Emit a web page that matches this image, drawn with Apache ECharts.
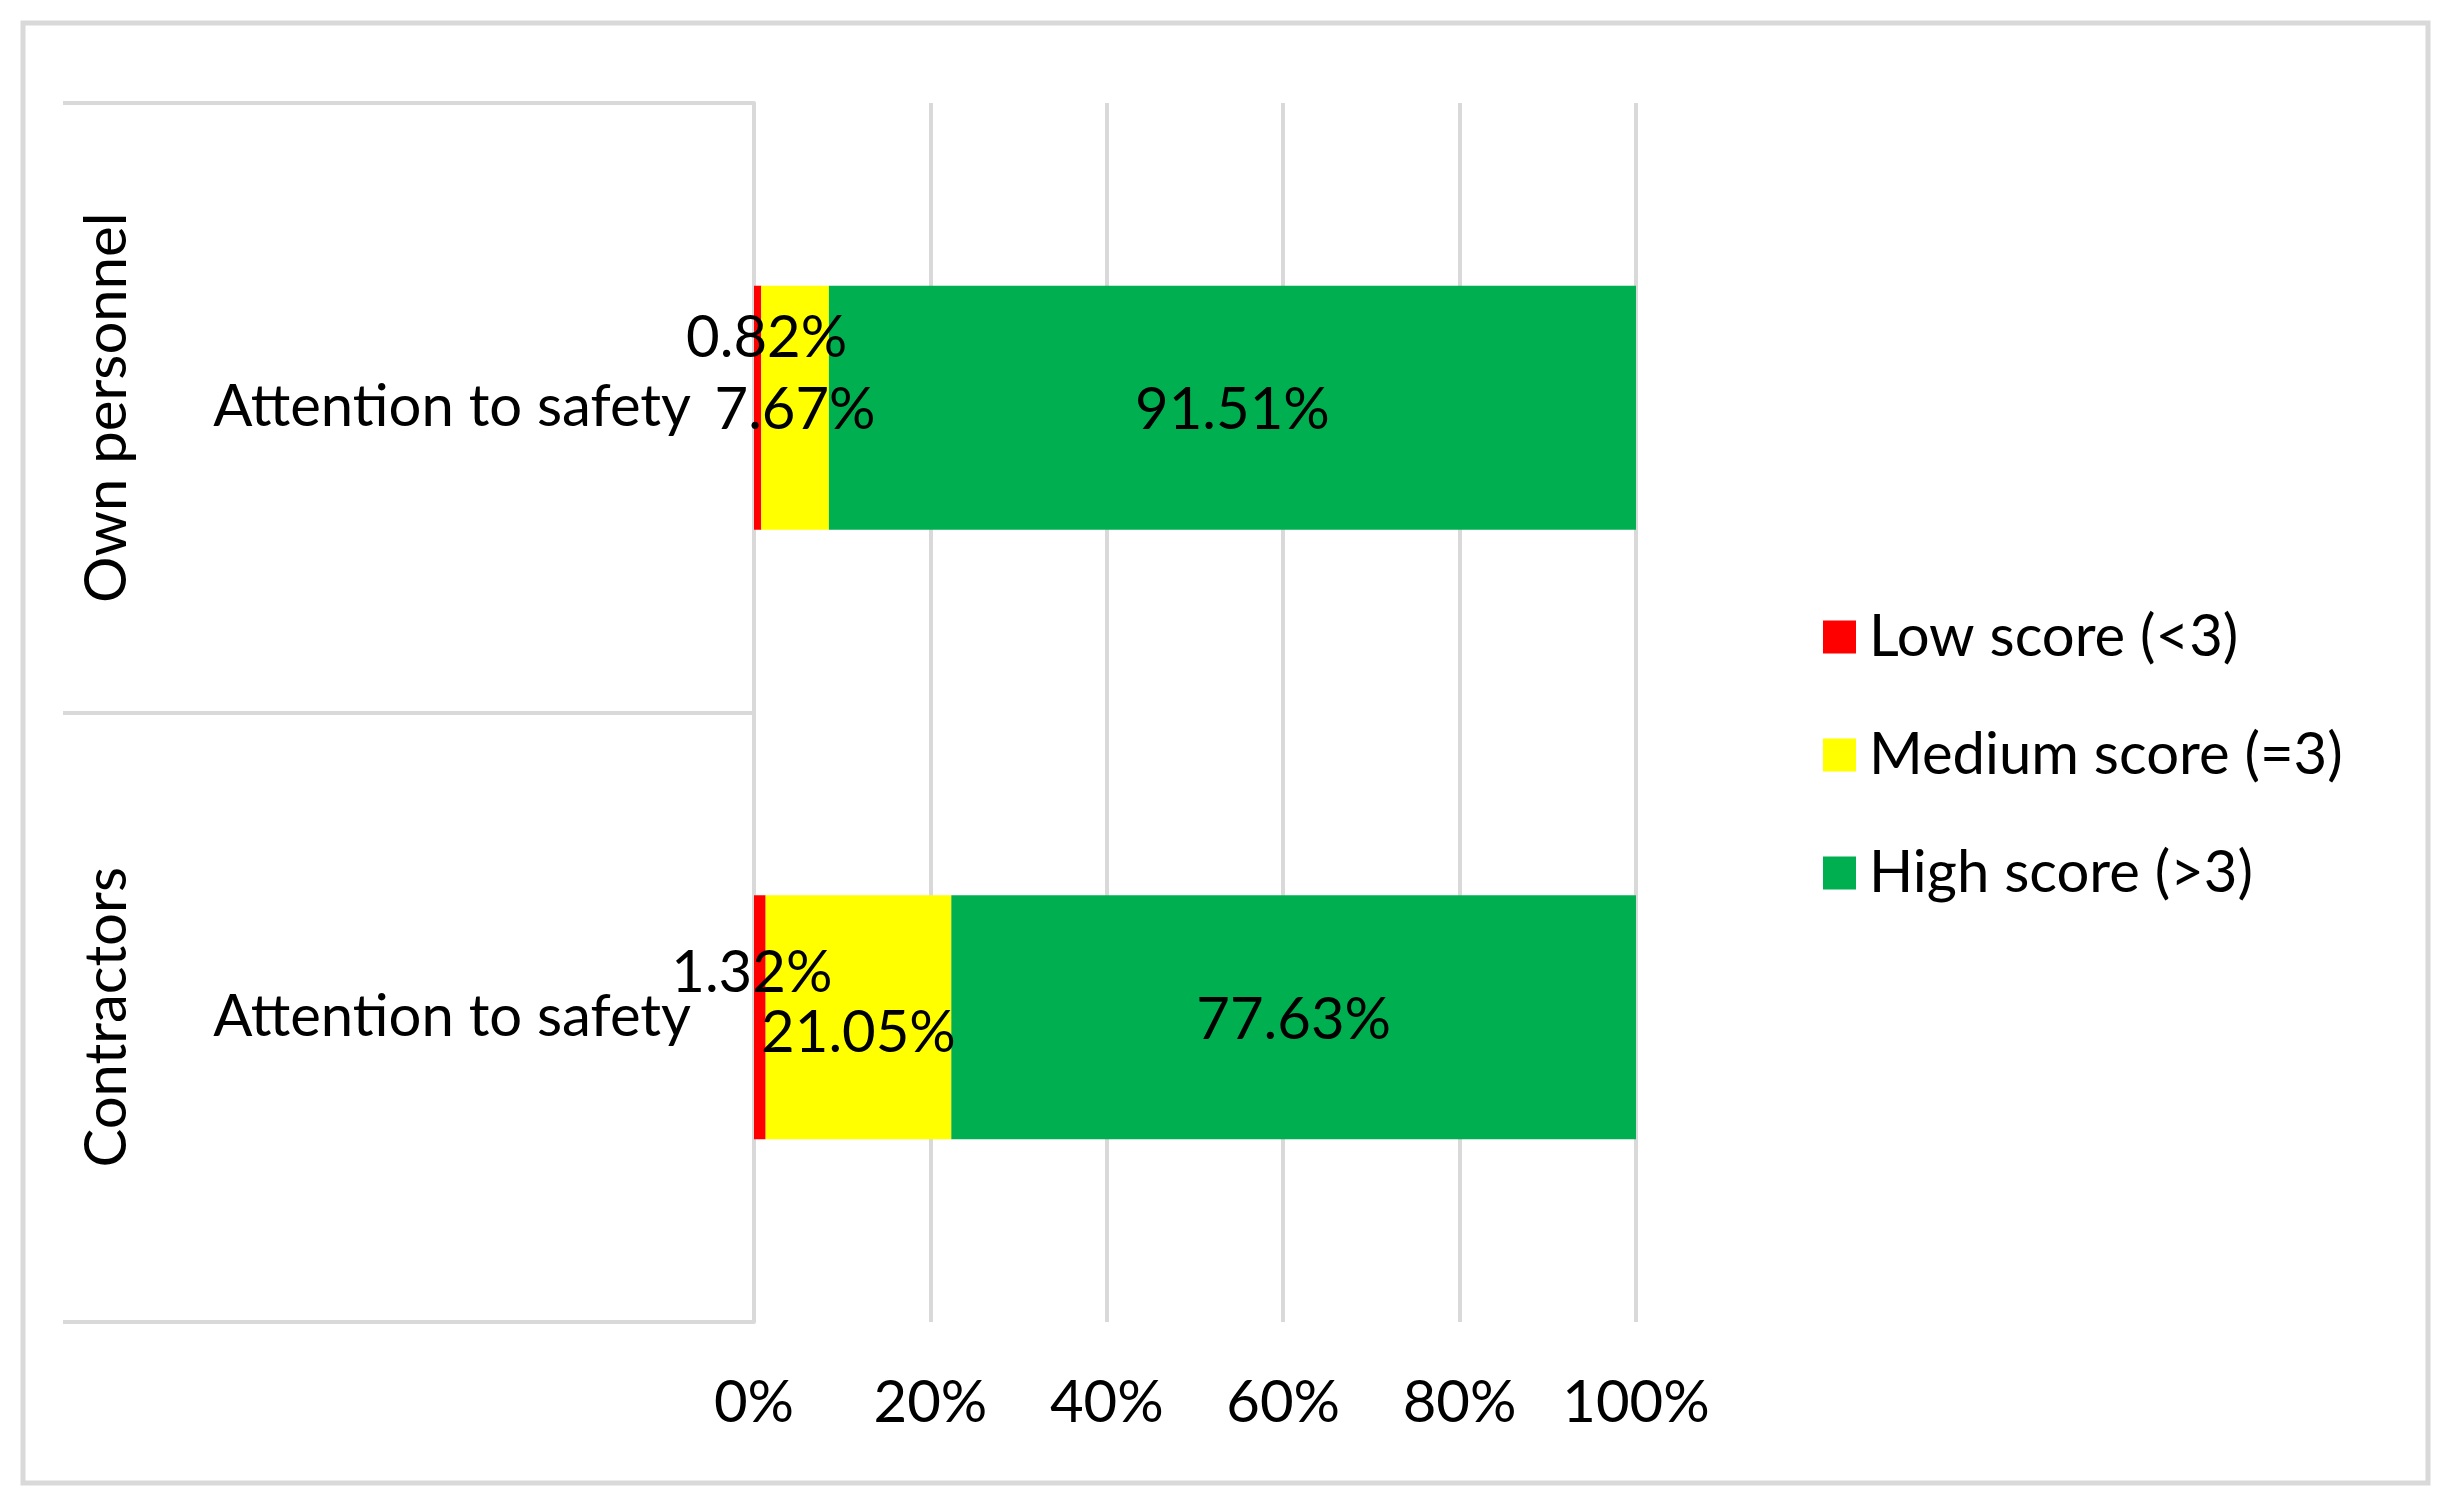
<!DOCTYPE html>
<html>
<head>
<meta charset="utf-8">
<style>
  html, body { margin: 0; padding: 0; background: #ffffff; }
  #chart { width: 2453px; height: 1512px; }
</style>
<script src="https://cdn.jsdelivr.net/npm/echarts@6/dist/echarts.min.js"></script>
</head>
<body>
<div id="chart"></div>
<script>
// ---- data ----
const groups = ['Own personnel', 'Contractors'];
const itemName = 'Attention to safety';
const seriesNames = ['Low score (<3)', 'Medium score (=3)', 'High score (>3)'];
const lowScore = [0.82, 1.32];
const mediumScore = [7.67, 21.05];
const highScore = [91.51, 77.63];
const xTickLabels = ['0%', '20%', '40%', '60%', '80%', '100%'];

// ---- style ----
const FONT = 'Lato';
const FS = 58;
const colors = ['#FF0000', '#FFFF00', '#00B050'];
const gridGray = '#d9d9d9';
// manual label nudges (Excel-style hand placed labels)
const labelOffsets = [
  [[9, -69], [-8, -44]],
  [[0, 3], [0, 16]],
  [[0, 3], [0, 3]]
];

const chart = echarts.init(document.getElementById('chart'));

function buildSeries(name, values, idx) {
  return {
    name: name,
    type: 'bar',
    stack: 'total',
    yAxisIndex: 0,
    barCategoryGap: '60%',
    itemStyle: { color: colors[idx] },
    label: {
      show: true,
      position: 'inside',
      formatter: (p) => p.value.toFixed(2) + '%',
      color: '#000',
      fontFamily: FONT,
      fontSize: FS
    },
    data: values.map((v, i) => ({
      value: v,
      label: { offset: labelOffsets[idx][i] }
    }))
  };
}

chart.setOption({
  backgroundColor: '#ffffff',
  animation: false,
  textStyle: { fontFamily: FONT },
  graphic: [{
    type: 'rect',
    shape: { x: 23, y: 23, width: 2405, height: 1460 },
    style: { fill: 'none', stroke: gridGray, lineWidth: 5 },
    silent: true
  }],
  legend: {
    orient: 'vertical',
    left: 1818,
    top: 603,
    itemWidth: 33,
    itemHeight: 33,
    itemGap: 60,
    icon: 'rect',
    textStyle: { fontFamily: FONT, fontSize: FS, color: '#000', padding: [0, 0, 0, 8] },
    data: seriesNames
  },
  grid: {
    left: 754, right: 817, top: 103, bottom: 190,
    outerBoundsMode: 'none'
  },
  xAxis: {
    type: 'value',
    min: 0, max: 100, interval: 20,
    axisLine: { show: false },
    axisTick: { show: false },
    splitLine: { show: true, lineStyle: { color: gridGray, width: 4 } },
    axisLabel: {
      margin: 52,
      color: '#000',
      fontFamily: FONT,
      fontSize: FS,
      formatter: (v) => xTickLabels[Math.round(v / 20)]
    }
  },
  yAxis: [{
    type: 'category',
    inverse: true,
    data: groups,
    axisLine: { show: true, lineStyle: { color: gridGray, width: 4 } },
    axisTick: { show: true, length: 691, lineStyle: { color: gridGray, width: 4 } },
    axisLabel: {
      margin: 63,
      color: '#000',
      fontFamily: FONT,
      fontSize: FS,
      formatter: () => itemName
    }
  }, {
    type: 'category',
    inverse: true,
    position: 'left',
    data: groups,
    axisLine: { show: false },
    axisTick: { show: false },
    axisLabel: {
      rotate: 90,
      margin: 618,
      color: '#000',
      fontFamily: FONT,
      fontSize: FS
    }
  }],
  series: [
    buildSeries(seriesNames[0], lowScore, 0),
    buildSeries(seriesNames[1], mediumScore, 1),
    buildSeries(seriesNames[2], highScore, 2)
  ]
});
</script>
</body>
</html>
